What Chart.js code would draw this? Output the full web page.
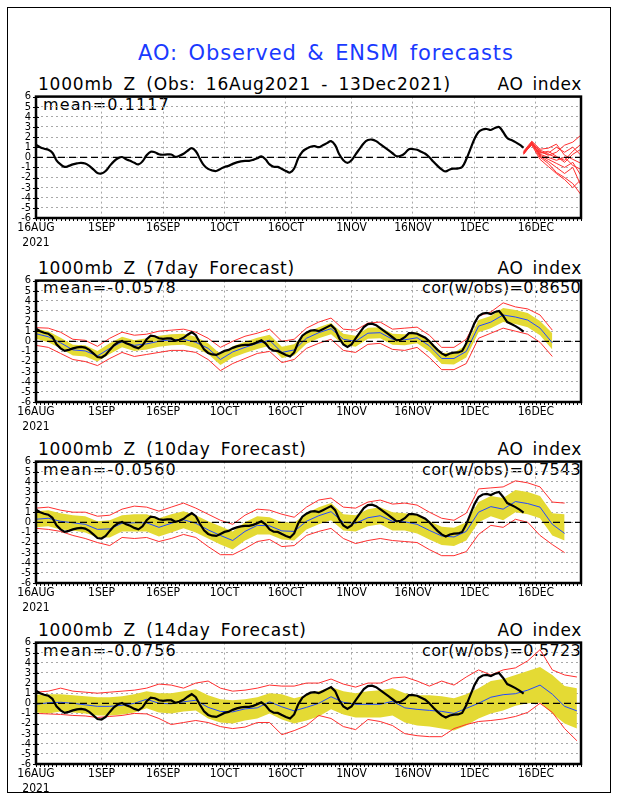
<!DOCTYPE html>
<html>
<head>
<meta charset="utf-8">
<title>AO: Observed & ENSM forecasts</title>
<script src="https://cdn.jsdelivr.net/npm/chart.js@4.4.0/dist/chart.umd.min.js"></script>
<style>
  body { margin: 0; background: #fff; width: 618px; height: 800px; position: relative; overflow: hidden;
         font-family: 'DejaVu Sans', sans-serif; }
  #frame { position: absolute; left: 7px; top: 7px; width: 602px; height: 784px; border: 1px solid #000; }
  .t { position: absolute; white-space: nowrap; line-height: 1; color: #000; }
  .main { font-size: 21px; color: #1a3aff; left: 138px; top: 43px; letter-spacing: 0.9px; word-spacing: 3px; }
  .ptitle { font-size: 17px; left: 38px; letter-spacing: 0.8px; word-spacing: 4px; }
  .pright { font-size: 17px; right: 36px; letter-spacing: 0.6px; word-spacing: 3px; }
  .stat { font-size: 16px; }
  .mean { left: 43px; letter-spacing: 1.1px; }
  .cor { right: 37px; letter-spacing: 0.3px; }
  canvas { position: absolute; left: 0; }
</style>
</head>
<body>
<div id="frame"></div>
<div class="t main">AO: Observed &amp; ENSM forecasts</div>

<div class="t ptitle" style="top:76px">1000mb Z (Obs: 16Aug2021 - 13Dec2021)</div>
<div class="t pright" style="top:76px">AO index</div>
<div class="t stat mean" style="top:97px">mean=0.1117</div>

<div class="t ptitle" style="top:260px">1000mb Z (7day Forecast)</div>
<div class="t pright" style="top:260px">AO index</div>
<div class="t stat mean" style="top:280px">mean=-0.0578</div>
<div class="t stat cor" style="top:280px">cor(w/obs)=0.8650</div>

<div class="t ptitle" style="top:441px">1000mb Z (10day Forecast)</div>
<div class="t pright" style="top:441px">AO index</div>
<div class="t stat mean" style="top:462px">mean=-0.0560</div>
<div class="t stat cor" style="top:462px">cor(w/obs)=0.7543</div>

<div class="t ptitle" style="top:622px">1000mb Z (14day Forecast)</div>
<div class="t pright" style="top:622px">AO index</div>
<div class="t stat mean" style="top:643px">mean=-0.0756</div>
<div class="t stat cor" style="top:643px">cor(w/obs)=0.5723</div>

<canvas id="p1" width="618" height="163" style="top:85px"></canvas>
<canvas id="p2" width="618" height="163" style="top:269px"></canvas>
<canvas id="p3" width="618" height="163" style="top:450px"></canvas>
<canvas id="p4" width="618" height="163" style="top:631px"></canvas>

<script>
(function() {
  'use strict';

  // ============================================
  // DATA (days counted from 16 Aug 2021)
  // ============================================

  const X_MAX = 133;
  const tickDays = [0, 16, 31, 46, 61, 77, 92, 107, 122];
  const tickLabels = ['16AUG', '1SEP', '16SEP', '1OCT', '16OCT', '1NOV', '16NOV', '1DEC', '16DEC'];
  const yearLabel = '2021';
  const yTicks = [6, 5, 4, 3, 2, 1, 0, -1, -2, -3, -4, -5, -6];

  // observed AO, daily, 16 Aug .. 13 Dec
  const obsAO = [
    1.25, 1.0, 0.85, 0.75, 0.45, -0.3, -0.7, -0.95, -0.85, -0.7,
    -0.6, -0.55, -0.62, -0.85, -1.2, -1.55, -1.6, -1.35, -0.85, -0.4,
    -0.1, 0.03, -0.2, -0.35, -0.55, -0.7, -0.4, 0.2, 0.55, 0.5,
    0.3, 0.25, 0.28, 0.28, 0.05, 0.15, 0.35, 0.65, 0.9, 0.6,
    -0.15, -0.8, -1.15, -1.3, -1.35, -1.15, -0.95, -0.85, -0.65, -0.5,
    -0.4, -0.35, -0.35, -0.25, -0.1, 0.1, -0.2, -0.7, -0.93, -0.95,
    -1.15, -1.35, -1.5, -1.1, -0.1, 0.55, 0.85, 1.05, 1.1, 1.0,
    1.2, 1.4, 1.6, 1.2, 0.3, -0.3, -0.55, -0.3, 0.3, 0.85,
    1.4, 1.7, 1.75, 1.6, 1.3, 1.0, 0.7, 0.4, 0.1, 0.15,
    0.4, 0.8, 0.8, 0.75, 0.55, 0.35, 0.0, -0.45, -0.85, -1.2,
    -1.4, -1.2, -1.12, -1.1, -0.95, -0.2, 0.8, 1.8, 2.5, 2.75,
    2.8, 2.7, 2.9, 3.0, 2.5, 1.9, 1.7, 1.5, 1.25, 0.95
  ];

  // ensemble members from 13 Dec, every 2 days
  const ENS_START = 119, ENS_STEP = 2;
  const ens01 = [0.4, 1.5, 0.5, 0.3, 0.0, -0.3, 0.6, 1.3];
  const ens02 = [0.5, 1.4, 0.2, -0.2, -0.6, -1.0, -0.5, -1.8];
  const ens03 = [0.3, 1.3, 0.0, -0.6, -1.5, -2.0, -2.6, -3.7];
  const ens04 = [0.6, 1.6, 0.8, 0.9, 1.3, 0.2, -0.2, -0.6];
  const ens05 = [0.4, 1.2, -0.2, -0.9, -1.6, -2.2, -3.0, -2.2];
  const ens06 = [0.5, 1.5, 0.6, 0.2, 0.5, 1.2, 1.5, 2.2];
  const ens07 = [0.3, 1.4, 0.3, 0.0, -0.3, 0.0, -0.8, -1.2];
  const ens08 = [0.5, 1.3, 0.4, 0.6, 0.1, -0.5, 0.3, 0.8];
  const ens09 = [0.4, 1.5, 0.1, -0.4, -1.0, -1.6, -1.0, -2.8];
  const ens10 = [0.5, 1.4, 0.7, 0.4, 1.0, 0.5, 1.0, 0.2];

  // forecasts verified every 3 days
  const FC_STEP = 3;

  const fc7Mean = [0.75, 0.45, -0.15, -0.85, -0.95, -1.45, -0.7, -0.05, -0.4, -0.25, 0.0, 0.15, 0.2, -0.1, -0.7, -1.8, -1.05, -0.6, -0.2, 0.1, -1.1, -0.85, 0.3, 0.85, 1.25, 0.2, 0.0, 0.8, 0.85, 0.2, 0.15, 0.35, -0.45, -1.7, -1.7, -1.0, 1.5, 1.9, 2.6, 2.4, 2.1, 1.3, -0.15];
  const fc7Hi   = [1.25, 1.0, 0.35, -0.35, -0.4, -0.95, -0.2, 0.45, 0.1, 0.3, 0.55, 0.7, 0.75, 0.45, -0.2, -1.25, -0.5, -0.05, 0.35, 0.65, -0.55, -0.3, 0.85, 1.4, 1.8, 0.75, 0.55, 1.35, 1.4, 0.75, 0.7, 0.9, 0.1, -1.15, -1.1, -0.4, 2.1, 2.5, 3.3, 3.1, 2.8, 2.0, 0.8];
  const fc7Lo   = [0.25, -0.1, -0.7, -1.4, -1.5, -2.0, -1.25, -0.6, -0.95, -0.8, -0.55, -0.4, -0.35, -0.65, -1.25, -2.35, -1.6, -1.15, -0.75, -0.45, -1.65, -1.4, -0.25, 0.3, 0.7, -0.35, -0.55, 0.25, 0.3, -0.35, -0.4, -0.2, -1.0, -2.25, -2.3, -1.6, 0.9, 1.3, 1.9, 1.7, 1.4, 0.6, -0.8];
  const fc7Max  = [1.35, 1.3, 0.9, 0.2, 0.1, -0.5, 0.3, 0.9, 0.6, 0.7, 1.0, 1.1, 1.2, 0.9, 0.3, -0.6, 0.0, 0.5, 0.8, 1.2, 0.0, 0.2, 1.3, 1.9, 2.3, 1.2, 1.1, 1.8, 1.9, 1.2, 1.3, 1.4, 0.6, -0.6, -0.6, 0.2, 2.5, 2.9, 3.8, 3.4, 3.2, 2.6, 1.1];
  const fc7Min  = [-0.4, -0.6, -1.2, -1.8, -2.0, -2.4, -1.7, -1.1, -1.5, -1.3, -1.1, -0.9, -0.9, -1.1, -1.8, -2.9, -2.2, -1.7, -1.2, -1.0, -2.1, -1.8, -0.7, -0.2, 0.2, -0.9, -1.1, -0.3, -0.2, -0.8, -0.9, -0.6, -1.6, -2.8, -2.8, -2.2, 0.3, 0.8, 1.3, 1.0, 0.7, -0.1, -1.5];

  const fc10Mean = [0.3, 0.4, 0.1, -0.05, -0.2, -0.7, -0.65, -0.1, -0.05, -0.05, -0.5, -0.1, 0.25, -0.1, -0.75, -1.3, -1.8, -0.9, -0.3, -0.35, -0.85, -0.9, 0.1, 0.65, 1.05, 0.0, -0.1, 0.45, 0.65, 0.1, 0.05, -0.2, -0.8, -1.35, -1.45, -0.9, 1.0, 1.55, 1.3, 2.05, 1.85, 1.5, -0.2, -1.1];
  const fc10Hi   = [1.1, 1.2, 0.9, 0.7, 0.6, 0.1, 0.2, 0.7, 0.8, 0.8, 0.4, 0.8, 1.1, 0.7, 0.1, -0.4, -0.9, 0.0, 0.6, 0.5, 0.0, -0.05, 0.9, 1.5, 1.9, 0.8, 0.7, 1.3, 1.5, 1.0, 0.9, 0.7, 0.1, -0.45, -0.55, 0.0, 2.0, 2.6, 2.4, 3.2, 3.0, 2.6, 0.9, 0.8];
  const fc10Lo   = [-0.5, -0.4, -0.7, -0.8, -1.0, -1.5, -1.5, -0.9, -0.9, -0.9, -1.4, -1.0, -0.6, -1.0, -1.6, -2.2, -2.7, -1.8, -1.2, -1.2, -1.7, -1.8, -0.7, -0.2, 0.2, -0.8, -0.9, -0.4, -0.2, -0.8, -0.8, -1.1, -1.7, -2.25, -2.35, -1.8, 0.0, 0.6, 0.2, 1.0, 0.8, 0.4, -1.3, -1.8];
  const fc10Max  = [1.4, 1.5, 1.2, 1.0, 1.0, 0.6, 0.7, 1.3, 1.6, 1.5, 1.1, 1.5, 1.9, 1.4, 0.8, 0.2, -0.2, 0.7, 1.3, 1.2, 0.8, 0.5, 1.5, 2.2, 2.4, 1.5, 1.4, 2.0, 2.2, 1.8, 1.9, 1.7, 1.0, 0.4, 0.2, 0.9, 3.3, 3.4, 3.5, 4.1, 3.9, 3.5, 2.0, 1.9];
  const fc10Min  = [-0.6, -0.7, -0.9, -1.3, -1.6, -2.0, -2.3, -1.5, -1.6, -1.5, -1.9, -1.6, -1.2, -1.5, -2.4, -3.2, -3.2, -2.6, -1.9, -1.7, -2.4, -2.3, -1.3, -0.9, -0.6, -1.6, -2.1, -1.8, -1.6, -1.8, -1.9, -2.0, -2.7, -3.3, -3.3, -2.9, -1.2, -0.3, -0.5, 0.3, 0.0, -1.3, -2.2, -3.0];

  const fc14Mean = [-0.1, 0.05, 0.1, 0.0, -0.15, -0.3, -0.3, -0.2, 0.0, 0.4, 0.0, -0.05, 0.15, 0.3, -0.4, -0.8, -0.85, -0.55, -0.45, 0.15, -0.35, -0.75, -0.4, 0.0, 0.65, 0.1, -0.1, -0.1, -0.1, 0.2, -0.45, -0.6, -0.7, -0.8, -1.0, -0.5, 0.0, 0.6, 0.85, 0.95, 1.3, 1.8, 0.9, -0.3, -0.75];
  const fc14Hi   = [0.85, 0.9, 0.9, 0.8, 0.7, 0.6, 0.6, 0.7, 0.9, 1.2, 1.0, 1.0, 1.2, 1.4, 0.8, 0.4, 0.3, 0.4, 0.6, 1.0, 0.9, 0.5, 0.8, 1.2, 1.6, 1.2, 1.0, 1.2, 1.3, 1.5, 1.0, 0.8, 0.8, 0.7, 0.5, 0.9, 1.5, 2.2, 2.4, 2.8, 3.2, 3.6, 2.8, 1.7, 1.5];
  const fc14Lo   = [-0.9, -1.0, -0.8, -0.9, -1.0, -1.2, -1.2, -1.1, -0.9, -0.5, -0.9, -1.0, -0.8, -0.7, -1.5, -1.9, -2.0, -1.7, -1.5, -1.0, -1.6, -2.0, -1.7, -1.3, -0.6, -1.1, -1.4, -1.4, -1.4, -1.2, -1.9, -2.2, -2.3, -2.5, -2.7, -2.2, -1.5, -1.0, -0.7, -0.25, 0.0, 0.05, -1.0, -2.0, -2.5];
  const fc14Max  = [1.1, 1.2, 1.5, 1.2, 1.1, 1.0, 1.1, 1.2, 1.3, 1.5, 1.9, 1.8, 1.5, 2.0, 2.2, 1.5, 1.2, 1.3, 1.5, 1.8, 1.7, 1.7, 2.0, 2.0, 2.4, 1.9, 1.6, 2.0, 2.0, 2.5, 2.6, 2.2, 1.7, 2.2, 1.8, 2.6, 3.3, 2.8, 3.3, 3.5, 4.2, 5.3, 3.3, 2.8, 2.6];
  const fc14Min  = [-1.0, -1.05, -1.1, -1.2, -1.25, -1.4, -1.3, -1.2, -1.0, -1.05, -1.5, -2.1, -1.9, -1.7, -1.9, -2.3, -2.5, -2.35, -1.9, -1.9, -3.1, -2.7, -2.2, -1.2, -1.5, -2.3, -2.6, -1.6, -1.8, -2.2, -3.0, -3.2, -3.3, -3.3, -2.5, -2.1, -1.8, -1.7, -1.55, -1.3, -0.9, 0.0, -0.9, -2.5, -3.7];

  // ============================================
  // STYLE
  // ============================================

  const BLACK = '#000000';
  const RED = '#ff3030';
  const BLUE = '#2248ff';
  const YELLOW = 'rgb(228, 218, 52)';
  const GRID = '#a8a8a8';
  const TICK_FONT = "'DejaVu Sans Condensed', 'DejaVu Sans', sans-serif";

  function pts(vals, start, step) {
    return vals.map((v, i) => ({ x: start + i * step, y: v }));
  }

  function line(data, color, width, tension) {
    return {
      data: data,
      borderColor: color,
      borderWidth: width,
      backgroundColor: color,
      pointRadius: 0,
      tension: tension || 0,
      fill: false
    };
  }

  // frame, dashed zero line, small day ticks
  const framePlugin = {
    id: 'frame',
    afterDatasetsDraw(chart) {
      const { ctx, chartArea: a, scales } = chart;
      const y0 = scales.y.getPixelForValue(0);
      ctx.save();
      ctx.strokeStyle = BLACK;
      ctx.lineWidth = 1.2;
      ctx.setLineDash([7, 4]);
      ctx.beginPath();
      ctx.moveTo(a.left, y0);
      ctx.lineTo(a.right, y0);
      ctx.stroke();
      ctx.restore();
    },
    afterDraw(chart) {
      const { ctx, chartArea: a, scales } = chart;
      ctx.save();
      ctx.strokeStyle = BLACK;
      ctx.lineWidth = 1;
      for (let d = 0; d <= X_MAX; d++) {
        const x = Math.round(scales.x.getPixelForValue(d)) + 0.5;
        ctx.beginPath();
        ctx.moveTo(x, a.bottom);
        ctx.lineTo(x, a.bottom + 3);
        ctx.stroke();
      }
      yTicks.forEach(v => {
        const y = Math.round(scales.y.getPixelForValue(v)) + 0.5;
        ctx.beginPath();
        ctx.moveTo(a.left - 3, y);
        ctx.lineTo(a.left + 3, y);
        ctx.stroke();
      });
      ctx.lineWidth = 2.5;
      ctx.strokeRect(a.left, a.top, a.right - a.left, a.bottom - a.top);
      ctx.restore();
    }
  };

  function makeChart(id, datasets) {
    const el = document.getElementById(id);
    return new Chart(el, {
      type: 'line',
      data: { datasets: datasets },
      plugins: [framePlugin],
      options: {
        responsive: false,
        animation: false,
        devicePixelRatio: 1,
        layout: { padding: { top: 8, right: 37, left: 0, bottom: 0 } },
        plugins: { legend: { display: false }, tooltip: { enabled: false } },
        scales: {
          x: {
            type: 'linear',
            min: 0,
            max: X_MAX,
            afterBuildTicks: s => { s.ticks = tickDays.map(v => ({ value: v })); },
            afterFit: s => { s.height = 30; },
            ticks: {
              autoSkip: false,
              maxRotation: 0,
              padding: 3,
              color: BLACK,
              font: { family: TICK_FONT, size: 12 },
              callback: (v, i) => i === 0 ? [tickLabels[i], yearLabel] : tickLabels[i]
            },
            grid: { color: GRID, lineWidth: 1, drawTicks: false },
            border: { display: false, dash: [2, 3] }
          },
          y: {
            min: -6,
            max: 6,
            afterBuildTicks: s => { s.ticks = yTicks.map(v => ({ value: v })); },
            afterFit: s => { s.width = 36; },
            ticks: {
              autoSkip: false,
              padding: 5,
              color: BLACK,
              font: { family: TICK_FONT, size: 11 },
              callback: v => String(v)
            },
            grid: { color: GRID, lineWidth: 1, drawTicks: false },
            border: { display: false, dash: [2, 3] }
          }
        }
      }
    });
  }

  function forecastSets(mean, hi, lo, max, min) {
    const band = line(pts(hi, 0, FC_STEP), YELLOW, 0);
    band.fill = '+1';
    band.backgroundColor = YELLOW;
    const bandLo = line(pts(lo, 0, FC_STEP), YELLOW, 0);
    return [
      line(pts(obsAO, 0, 1), BLACK, 2.2),
      line(pts(mean, 0, FC_STEP), BLUE, 1),
      line(pts(max, 0, FC_STEP), RED, 1),
      line(pts(min, 0, FC_STEP), RED, 1),
      band,
      bandLo
    ];
  }

  // ============================================
  // BUILD PANELS
  // ============================================

  const members = [ens01, ens02, ens03, ens04, ens05, ens06, ens07, ens08, ens09, ens10];
  const p1Sets = [line(pts(obsAO, 0, 1), BLACK, 2.2, 0.4)]
    .concat(members.map(m => line(pts(m, ENS_START, ENS_STEP), RED, 1)));
  makeChart('p1', p1Sets);

  makeChart('p2', forecastSets(fc7Mean, fc7Hi, fc7Lo, fc7Max, fc7Min));
  makeChart('p3', forecastSets(fc10Mean, fc10Hi, fc10Lo, fc10Max, fc10Min));
  makeChart('p4', forecastSets(fc14Mean, fc14Hi, fc14Lo, fc14Max, fc14Min));
})();
</script>
</body>
</html>
